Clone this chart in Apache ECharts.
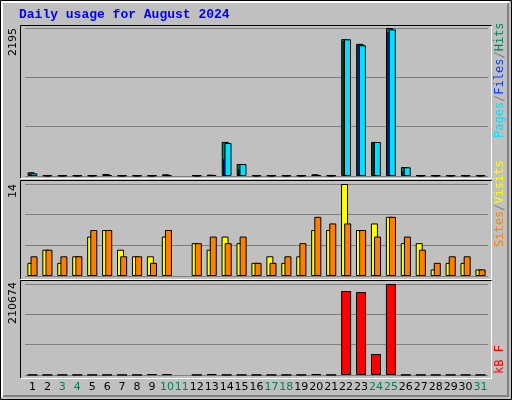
<!DOCTYPE html>
<html>
<head>
<meta charset="utf-8">
<script src="https://cdn.jsdelivr.net/npm/echarts@6/dist/echarts.min.js"></script>
<style>
  html, body { margin: 0; padding: 0; background: #fff; }
  #chart { width: 512px; height: 400px; }
</style>
</head>
<body>
<div id="chart"></div>
<script>
// data (null = no bar drawn)
var days = ['1','2','3','4','5','6','7','8','9','10','11','12','13','14','15','16','17','18','19','20','21','22','23','24','25','26','27','28','29','30','31'];
var weekends = ['3','4','10','11','17','18','24','25','31'];
var hits  = [55,10,10,10,10,30,10,10,10,25,null,10,20,505,178,10,10,10,10,25,10,2030,1960,505,2195,133,10,10,10,10,10];
var files = [30,8,8,8,8,20,8,8,8,18,null,8,14,250,104,8,8,8,8,18,8,2000,1950,500,2135,74,8,8,8,8,8];
var pages = [40,10,10,10,10,15,10,10,10,12,null,10,15,490,178,10,10,10,10,15,10,2027,1938,504,2175,129,10,10,10,10,10];
var visits = [2,4,2,3,6,7,4,3,3,6,null,5,4,6,5,2,3,2,3,7,7,14,7,8,9,5,5,1,2,2,1];
var sites  = [3,4,3,3,7,7,3,3,2,7,null,5,6,5,6,2,2,3,5,9,8,8,7,6,9,6,4,2,3,3,1];
var kbytes = [300,300,300,300,300,300,300,300,1800,1800,null,300,1800,300,300,300,300,300,300,1800,300,194500,192000,48600,210674,300,300,300,300,300,300];
var maxLabels = ['2195', '14', '210674'];

var chart = echarts.init(document.getElementById('chart'));
var FONT = '"DejaVu Sans", sans-serif';

function grid(top, height) {
  return { left: 25, right: 24, top: top, height: height, show: false };
}
function xAxis(i, labels) {
  return {
    gridIndex: i, type: 'category', data: days,
    axisLine: { show: false }, axisTick: { show: false },
    axisLabel: labels ? {
      show: true, interval: 0, margin: 7, fontFamily: FONT, fontSize: 11, hideOverlap: false,
      color: function (v) { return weekends.indexOf(v) >= 0 ? '#00805c' : '#000'; }
    } : { show: false }
  };
}
function yAxis(i, max) {
  return {
    gridIndex: i, type: 'value', min: 0, max: max, interval: max / 3,
    axisLine: { show: false }, axisTick: { show: false }, axisLabel: { show: false },
    splitLine: { show: true, lineStyle: { color: '#808080', width: 1 } }
  };
}
function bar(name, data, color, i, gap) {
  return {
    name: name, type: 'bar', data: data, xAxisIndex: i, yAxisIndex: i,
    barWidth: 7, barGap: gap, animation: false,
    itemStyle: { color: color, borderColor: '#000', borderWidth: 1 }
  };
}

// boxes around each panel + outer 3D frame
var graphics = [
  { type: 'rect', shape: { x: 0.5, y: 0.5, width: 511, height: 399 }, style: { fill: '#c0c0c0', stroke: '#000' }, z: -10 },
  { type: 'polyline', shape: { points: [[2, 397], [2, 2], [509, 2]] }, style: { stroke: '#fff', fill: null, lineWidth: 2 }, z: -9 },
  { type: 'polyline', shape: { points: [[3, 396], [508, 396], [508, 3]] }, style: { stroke: '#808080', fill: null, lineWidth: 2 }, z: -9 }
];
[[25, 153], [180, 99], [280, 98]].forEach(function (p) {
  graphics.push({ type: 'polyline', shape: { points: [[20.5, p[0] + p[1]], [20.5, p[0] + 0.5], [491.5, p[0] + 0.5]] }, style: { stroke: '#000', fill: null, lineWidth: 1 }, z: -5 });
  graphics.push({ type: 'polyline', shape: { points: [[21, p[0] + p[1] + 0.5], [491.5, p[0] + p[1] + 0.5], [491.5, p[0] + 1]] }, style: { stroke: '#fff', fill: null, lineWidth: 1 }, z: -5 });
});
// max value labels, rotated
[[28, 0], [184, 1], [282, 2]].forEach(function (p) {
  graphics.push({
    type: 'text', x: 8, y: p[0], rotation: Math.PI / 2,
    style: { text: maxLabels[p[1]], font: '11px ' + FONT, fill: '#000', align: 'right', verticalAlign: 'top' }
  });
});
function sideLabel(y, rich, text) {
  graphics.push({
    type: 'text', x: 494, y: y, rotation: Math.PI / 2,
    style: { text: text, rich: rich, font: '12px "DejaVu Sans Mono", monospace', align: 'left', verticalAlign: 'top' }
  });
}
var sl = { fontFamily: '"DejaVu Sans Mono", monospace', fontSize: 12, fill: '#808080' };
sideLabel(138, {
  p: Object.assign({}, sl, { fill: '#00e0ff' }), f: Object.assign({}, sl, { fill: '#0040ff' }),
  h: Object.assign({}, sl, { fill: '#00805c' }), s: sl
}, '{p|Pages}{s|/}{f|Files}{s|/}{h|Hits}');
sideLabel(247, {
  a: Object.assign({}, sl, { fill: '#ff8000' }), v: Object.assign({}, sl, { fill: '#ffff00' }), s: sl
}, '{a|Sites}{s|/}{v|Visits}');
sideLabel(374, { k: Object.assign({}, sl, { fill: '#ff0000' }) }, '{k|kB F}');
graphics.push({
  type: 'text', x: 19, y: 8,
  style: { text: 'Daily usage for August 2024', font: 'bold 13px "Liberation Mono", "DejaVu Sans Mono", monospace', fill: '#0000ff' }
});

var option = {
  backgroundColor: '#c0c0c0',
  animation: false,
  grid: [grid(28, 148), grid(184, 92), grid(284, 91)],
  xAxis: [xAxis(0, false), xAxis(1, false), xAxis(2, true)],
  yAxis: [yAxis(0, 2195), yAxis(1, 14), yAxis(2, 210674)],
  series: [
    bar('Hits', hits, '#00805c', 0, '-80%'),
    bar('Files', files, '#0040ff', 0, '-80%'),
    bar('Pages', pages, '#00e0ff', 0, '-80%'),
    bar('Visits', visits, '#ffff00', 1, '-55%'),
    bar('Sites', sites, '#ff8000', 1, '-55%'),
    Object.assign(bar('kB F', kbytes, '#ff0000', 2, '0%'), { barWidth: 10 })
  ],
  graphic: graphics
};
chart.setOption(option);
</script>
</body>
</html>
